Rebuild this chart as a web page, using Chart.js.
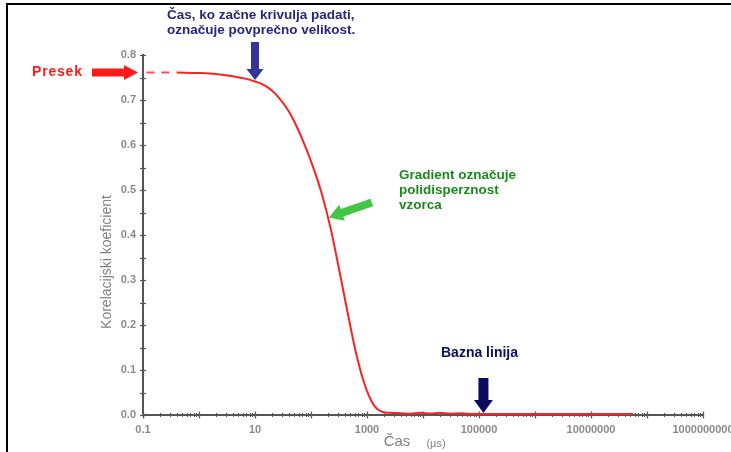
<!DOCTYPE html>
<html>
<head>
<meta charset="utf-8">
<script src="https://cdn.jsdelivr.net/npm/chart.js@4/dist/chart.umd.min.js"></script>
<style>
  html, body { margin: 0; padding: 0; background: #fff; }
  canvas { display: block; }
</style>
</head>
<body>
<canvas id="c" width="731" height="452"></canvas>
<script>
// Correlation function: time (µs) vs. correlation coefficient
const timeUs = [0.4, 1, 2, 4, 7, 10, 14, 20, 28, 40, 56, 79, 112, 158, 224, 316, 447, 631, 891, 1259, 1778, 2512, 4000,
                6000, 9000, 14000, 20000, 30000, 50000, 80000, 150000, 1e6, 1e7, 5.6e7];
const corrCoef = [0.761, 0.760, 0.758, 0.753, 0.747, 0.741, 0.734, 0.721, 0.702, 0.675, 0.640, 0.597, 0.547, 0.489,
                  0.415, 0.325, 0.230, 0.140, 0.071, 0.026, 0.008, 0.005, 0.004,
                  0.003, 0.005, 0.003, 0.005, 0.003, 0.004, 0.002, 0.002, 0.002, 0.002, 0.002];

// Extrapolated intercept (dashed) toward the y axis
const interceptTime = [0.115, 0.4];
const interceptCoef = [0.761, 0.761];

// Axis tick labels
const xTickLabels = ['0.1', '10', '1000', '100000', '10000000', '1000000000'];
const yTickLabels = ['0.0', '0.1', '0.2', '0.3', '0.4', '0.5', '0.6', '0.7', '0.8'];

// Annotation anchors (data coordinates)
const interceptValue = 0.761;
const decayStart = { x: 10, y: 0.742 };
const gradientPoint = { x: 200, y: 0.439 };
const baselinePoint = { x: 1.2e5, y: 0.0 };

const toPoints = (xs, ys) => xs.map((x, i) => ({ x, y: ys[i] }));

function drawArrow(ctx, x1, y1, x2, y2, bodyW, headW, headL, color) {
  const ang = Math.atan2(y2 - y1, x2 - x1);
  const len = Math.hypot(x2 - x1, y2 - y1);
  ctx.save();
  ctx.translate(x1, y1);
  ctx.rotate(ang);
  ctx.beginPath();
  ctx.moveTo(0, -bodyW / 2);
  ctx.lineTo(len - headL, -bodyW / 2);
  ctx.lineTo(len - headL, -headW / 2);
  ctx.lineTo(len, 0);
  ctx.lineTo(len - headL, headW / 2);
  ctx.lineTo(len - headL, bodyW / 2);
  ctx.lineTo(0, bodyW / 2);
  ctx.closePath();
  ctx.fillStyle = color;
  ctx.fill();
  ctx.restore();
}

// Tick marks that straddle both axes
const crossTicks = {
  id: 'crossTicks',
  beforeDatasetsDraw(chart) {
    const { ctx, scales: { x, y } } = chart;
    ctx.save();
    ctx.strokeStyle = '#555';
    ctx.lineWidth = 1.2;
    const ax = x.left;
    y.ticks.forEach(t => {
      const py = Math.round(y.getPixelForValue(t.value)) + 0.5;
      ctx.beginPath();
      ctx.moveTo(ax - 3, py);
      ctx.lineTo(ax + 3, py);
      ctx.stroke();
    });
    const ay = y.bottom;
    x.ticks.forEach(t => {
      const px = Math.round(x.getPixelForValue(t.value)) + 0.5;
      const h = t.major ? 3.5 : 2;
      ctx.lineWidth = t.major ? 1.3 : 1;
      ctx.beginPath();
      ctx.moveTo(px, ay - h);
      ctx.lineTo(px, ay + h);
      ctx.stroke();
    });
    ctx.restore();
  }
};

// Frame, axis titles, explanatory notes and arrows
const notes = {
  id: 'notes',
  afterDraw(chart) {
    const { ctx, scales: { x, y } } = chart;
    ctx.save();

    // frame lines
    ctx.strokeStyle = '#000';
    ctx.lineWidth = 2;
    ctx.beginPath();
    ctx.moveTo(7, 452);
    ctx.lineTo(7, 4);
    ctx.lineTo(731, 4);
    ctx.stroke();

    // axis titles
    ctx.fillStyle = '#808080';
    ctx.textBaseline = 'middle';
    ctx.textAlign = 'center';
    ctx.font = '15px "Liberation Sans", Arial, sans-serif';
    ctx.fillText('Čas', 397, 442);
    ctx.font = '11px "Liberation Sans", Arial, sans-serif';
    ctx.fillText('(µs)', 436, 444);
    ctx.save();
    ctx.translate(107, 262);
    ctx.rotate(-Math.PI / 2);
    ctx.font = '14px "Liberation Sans", Arial, sans-serif';
    ctx.fillText('Korelacijski koeficient', 0, 0);
    ctx.restore();

    ctx.textAlign = 'left';

    // intercept
    const iy = y.getPixelForValue(interceptValue);
    ctx.fillStyle = '#ff1a1a';
    ctx.font = 'bold 14px "Liberation Sans", Arial, sans-serif';
    ctx.letterSpacing = '0.8px';
    ctx.fillText('Presek', 32, iy);
    ctx.letterSpacing = '0px';
    drawArrow(ctx, 92, iy, x.left - 5, iy, 8, 15, 14, '#ff1a1a');

    // decay onset
    ctx.fillStyle = '#262680';
    ctx.font = 'bold 13.5px "Liberation Sans", Arial, sans-serif';
    ctx.fillText('Čas, ko začne krivulja padati,', 167, 15);
    ctx.fillText('označuje povprečno velikost.', 167, 30);
    const dx = x.getPixelForValue(decayStart.x);
    const dy = y.getPixelForValue(decayStart.y);
    drawArrow(ctx, dx, 42, dx, dy - 1, 8, 17, 11, '#333399');

    // gradient
    ctx.fillStyle = '#1a8a1a';
    ctx.fillText('Gradient označuje', 399, 175);
    ctx.fillText('polidisperznost', 399, 190);
    ctx.fillText('vzorca', 399, 205);
    const gx = x.getPixelForValue(gradientPoint.x) + 1;
    const gy = y.getPixelForValue(gradientPoint.y);
    drawArrow(ctx, gx + 43, gy - 15, gx, gy, 8, 17, 14, '#44c544');

    // baseline
    ctx.fillStyle = '#0d0d66';
    ctx.font = 'bold 14px "Liberation Sans", Arial, sans-serif';
    ctx.fillText('Bazna linija', 441, 353);
    const bx = x.getPixelForValue(baselinePoint.x);
    const by = y.getPixelForValue(baselinePoint.y);
    drawArrow(ctx, bx, 378, bx, by - 2, 10, 19, 13, '#0b0b5e');

    ctx.restore();
  }
};

const xMajorValues = xTickLabels.map(Number);

new Chart(document.getElementById('c'), {
  type: 'line',
  data: {
    datasets: [
      {
        data: toPoints(interceptTime, interceptCoef),
        borderColor: '#ff5050',
        borderWidth: 2,
        borderDash: [8, 7],
        pointRadius: 0,
        tension: 0
      },
      {
        data: toPoints(timeUs, corrCoef),
        borderColor: '#ff2020',
        borderWidth: 2,
        pointRadius: 0,
        cubicInterpolationMode: 'monotone'
      }
    ]
  },
  options: {
    responsive: false,
    animation: false,
    devicePixelRatio: 1,
    layout: { padding: { top: 55, right: 28, left: 0, bottom: 0 } },
    plugins: { legend: { display: false }, tooltip: { enabled: false }, title: { display: false } },
    scales: {
      x: {
        type: 'logarithmic',
        min: 0.1,
        max: 1e9,
        grid: { display: false, drawTicks: false },
        border: { display: true, color: '#555', width: 2 },
        afterBuildTicks: scale => {
          const ticks = [];
          for (let e = -1; e <= 9; e++) {
            for (let m = 1; m <= 9; m++) {
              const v = Number((m * Math.pow(10, e)).toPrecision(6));
              if (v > 1e9) break;
              ticks.push({ value: v, major: m === 1 });
            }
          }
          scale.ticks = ticks;
        },
        afterFit: scale => {
          scale.height = 37;
          scale.paddingLeft = 0;
          scale.paddingRight = 0;
        },
        ticks: {
          autoSkip: false,
          maxRotation: 0,
          minRotation: 0,
          padding: 8,
          color: '#8a8a8a',
          font: { family: '"Liberation Sans", Arial, sans-serif', size: 11, weight: 'bold' },
          callback: value => {
            const i = xMajorValues.findIndex(v => Math.abs(Math.log10(v) - Math.log10(value)) < 1e-6);
            return i >= 0 ? xTickLabels[i] : '';
          }
        }
      },
      y: {
        min: 0,
        max: 0.8,
        grid: { display: false, drawTicks: false },
        border: { display: true, color: '#555', width: 2 },
        afterFit: scale => {
          scale.width = 143;
          scale.paddingTop = 0;
          scale.paddingBottom = 0;
        },
        ticks: {
          stepSize: 0.05,
          autoSkip: false,
          padding: 7,
          color: '#8a8a8a',
          font: { family: '"Liberation Sans", Arial, sans-serif', size: 11, weight: 'bold' },
          callback: (value, index) => (index % 2 === 0 ? yTickLabels[index / 2] : '')
        }
      }
    }
  },
  plugins: [crossTicks, notes]
});
</script>
</body>
</html>
